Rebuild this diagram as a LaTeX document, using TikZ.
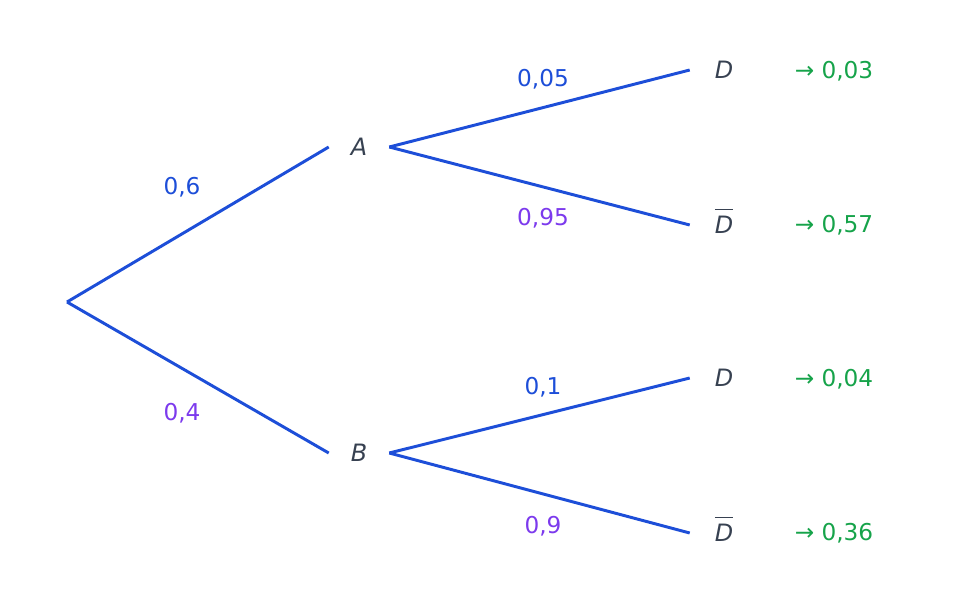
\documentclass[tikz,border=0pt]{standalone}
\usepackage{fontspec}
\setmainfont{DejaVu Sans}
\definecolor{branch}{HTML}{1D4ED8}
\definecolor{lilac}{HTML}{7C3AED}
\definecolor{result}{HTML}{16A34A}
\definecolor{ink}{HTML}{374151}
\tikzset{event/.style={text=ink,font=\fontsize{17}{20}\selectfont\itshape,minimum width=1.5cm,inner sep=0pt}}
\tikzset{leaf/.style={event,minimum width=1.7cm}}
\tikzset{edge/.style={draw=branch,line width=2.1pt}}
\tikzset{pup/.style={text=branch}}
\tikzset{pdown/.style={text=lilac}}
\tikzset{prod/.style={text=result}}
\newcommand{\ovl}[1]{\smash{$\overline{\hbox{\itshape #1\vphantom{Ď}}}$}\vphantom{#1}}
\begin{document}
\begin{tikzpicture}[font=\fontsize{16.5}{19}\selectfont]
    \useasboundingbox (0,0) rectangle (24,15.175);

    % root and first level
    \coordinate (root) at (1.675,7.625);
    \node[event] (A) at (8.975,11.5) {A};
    \node[event] (B) at (8.975,3.85) {B};

    % second level
    \node[leaf] (D1) at (18.1,13.425) {D};
    \node[leaf] (N1) at (18.1,9.55) {\ovl{D}};
    \node[leaf] (D2) at (18.1,5.725) {D};
    \node[leaf] (N2) at (18.1,1.85) {\ovl{D}};

    \draw[edge] (root) -- (A.west);
    \draw[edge] (root) -- (B.west);
    \draw[edge] (A.east) -- (D1.west);
    \draw[edge] (A.east) -- (N1.west);
    \draw[edge] (B.east) -- (D2.west);
    \draw[edge] (B.east) -- (N2.west);

    % probabilities
    \node[pup] (p1) at (4.55,10.5) {0,6};
    \node[pdown] (p2) at (4.55,4.85) {0,4};
    \node[pup] (p3) at (13.575,13.2) {0,05};
    \node[pdown] (p4) at (13.575,9.725) {0,95};
    \node[pup] (p5) at (13.575,5.5) {0,1};
    \node[pdown] (p6) at (13.575,2.025) {0,9};

    % products
    \node[prod] (r1) at (20.85,13.4) {→ 0,03};
    \node[prod] (r2) at (20.85,9.55) {→ 0,57};
    \node[prod] (r3) at (20.85,5.7) {→ 0,04};
    \node[prod] (r4) at (20.85,1.85) {→ 0,36};
\end{tikzpicture}
\end{document}
